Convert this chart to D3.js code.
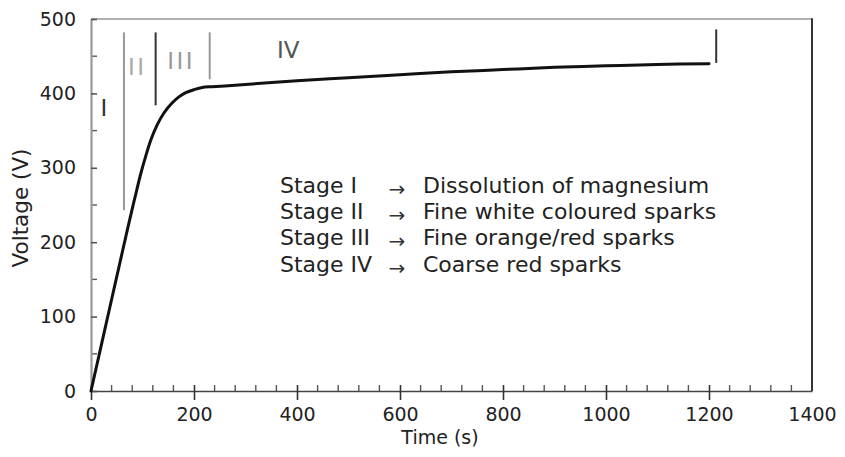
<!DOCTYPE html>
<html>
<head>
<meta charset="utf-8">
<script src="https://cdn.jsdelivr.net/npm/d3@7"></script>
<style>
  html, body { margin: 0; padding: 0; background: #fff; }
  svg { display: block; }
  text { font-family: "DejaVu Sans", sans-serif; }
</style>
</head>
<body>
<svg id="chart" width="845" height="457"></svg>
<script>
// ---- data ----
const timeS = [0, 40, 72, 86, 97, 106, 116, 128, 141, 156, 170, 184, 200, 216, 235, 260, 300, 400, 500, 600, 700, 800, 900, 1000, 1100, 1200];
const voltageV = [0, 123, 221, 262, 293, 315, 337, 357, 373, 386, 395, 401, 405, 408, 409, 410, 412, 417, 421, 425, 429, 432, 435, 437, 439, 440];

const xTicks = [0, 200, 400, 600, 800, 1000, 1200, 1400];
const yTicks = [0, 100, 200, 300, 400, 500];

// stage boundary markers: time, from voltage, to voltage
const markerTime = [64, 125.5, 230.5, 1214];
const markerFrom = [243, 384, 419, 441];
const markerTo = [482, 482, 482, 486];

// stage labels inside plot
const stageLabels = ["I", "II", "III", "IV"];
const stageLabelTime = [25, 90, 175, 383];
const stageLabelVolt = [381, 436, 444, 459];

// legend
const legendStages = ["Stage I", "Stage II", "Stage III", "Stage IV"];
const legendDesc = ["Dissolution of magnesium", "Fine white coloured sparks", "Fine orange/red sparks", "Coarse red sparks"];

// ---- drawing ----
(function () {
const svg = d3.select("#chart");
const pLeft = 91, pRight = 812, pTop = 19, pBottom = 391;

const x = d3.scaleLinear().domain([0, 1400]).range([pLeft, pRight]);
const y = d3.scaleLinear().domain([0, 500]).range([pBottom, pTop]);

// frame: top (gray), right (dark)
svg.append("line").attr("x1", pLeft).attr("x2", pRight).attr("y1", pTop).attr("y2", pTop)
  .attr("stroke", "#999").attr("stroke-width", 1.6);
svg.append("line").attr("x1", pRight).attr("x2", pRight).attr("y1", pTop - 0.8).attr("y2", pBottom)
  .attr("stroke", "#333").attr("stroke-width", 2);

// minor ticks
const xMinor = d3.range(40, 1400, 40).filter(v => v % 200 !== 0);
svg.append("g").selectAll("line").data(xMinor).join("line")
  .attr("x1", d => x(d)).attr("x2", d => x(d))
  .attr("y1", pBottom).attr("y2", pBottom - 6)
  .attr("stroke", "#555").attr("stroke-width", 1.4);
const yMinor = d3.range(50, 500, 100);
svg.append("g").selectAll("line").data(yMinor).join("line")
  .attr("x1", pLeft).attr("x2", pLeft + 6)
  .attr("y1", d => y(d)).attr("y2", d => y(d))
  .attr("stroke", "#555").attr("stroke-width", 1.4);

// x axis
const xAxis = svg.append("g").attr("transform", `translate(0,${pBottom})`)
  .call(d3.axisBottom(x).tickValues(xTicks).tickFormat(d3.format("d")).tickSize(9).tickSizeOuter(0).tickPadding(8));
xAxis.select(".domain").attr("stroke", "#444").attr("stroke-width", 1.6);
xAxis.selectAll(".tick line").attr("y1", -6).attr("stroke", "#333").attr("stroke-width", 1.6);
xAxis.selectAll(".tick text").attr("font-size", 19).attr("fill", "#222")
  .style("font-family", "'DejaVu Sans', sans-serif");
xAxis.selectAll(".tick").filter(d => d === 1400).select("line").remove();

// y axis
const yAxis = svg.append("g").attr("transform", `translate(${pLeft},0)`)
  .call(d3.axisLeft(y).tickValues(yTicks).tickFormat(d3.format("d")).tickSize(9).tickSizeOuter(0).tickPadding(6));
yAxis.select(".domain").attr("stroke", "#999").attr("stroke-width", 2.2);
yAxis.selectAll(".tick line").attr("x2", 6).attr("stroke", "#555").attr("stroke-width", 1.6);
yAxis.selectAll(".tick text").attr("font-size", 19).attr("fill", "#222")
  .style("font-family", "'DejaVu Sans', sans-serif");

// axis titles
svg.append("text").attr("x", 440).attr("y", 444).attr("text-anchor", "middle")
  .attr("font-size", 19).attr("fill", "#222").text("Time (s)");
svg.append("text").attr("transform", `translate(28,${208}) rotate(-90)`).attr("text-anchor", "middle")
  .attr("font-size", 21.5).attr("fill", "#222").text("Voltage (V)");

// stage markers
const markerColors = ["#999", "#333", "#999", "#333"];
svg.append("g").selectAll("line").data(markerTime).join("line")
  .attr("x1", d => x(d)).attr("x2", d => x(d))
  .attr("y1", (d, i) => y(markerFrom[i])).attr("y2", (d, i) => y(markerTo[i]))
  .attr("stroke", (d, i) => markerColors[i]).attr("stroke-width", 2);

// stage labels
const labelColors = ["#333", "#aaa", "#999", "#555"];
svg.append("g").selectAll("text").data(stageLabels).join("text")
  .attr("x", (d, i) => x(stageLabelTime[i])).attr("y", (d, i) => y(stageLabelVolt[i]) + 8)
  .attr("text-anchor", "middle")
  .attr("font-size", 23)
  .attr("letter-spacing", (d, i) => (i === 1 || i === 2) ? 2.5 : 0)
  .attr("fill", (d, i) => labelColors[i]).text(d => d);

// curve
const line = d3.line().x((d, i) => x(timeS[i])).y(d => y(d)).curve(d3.curveCatmullRom.alpha(0.5));
svg.append("path").datum(voltageV).attr("d", line)
  .attr("fill", "none").attr("stroke", "#111").attr("stroke-width", 3)
  .attr("stroke-linejoin", "round").attr("stroke-linecap", "round");

// legend
const lg = svg.append("g");
legendStages.forEach((s, i) => {
  const by = 193 + i * 26.2;
  lg.append("text").attr("x", 280).attr("y", by).attr("font-size", 22).attr("fill", "#222").text(s);
  lg.append("text").attr("x", 397).attr("y", by + 3).attr("font-size", 20).attr("text-anchor", "middle")
    .attr("fill", "#333").text("→");
  lg.append("text").attr("x", 423).attr("y", by).attr("font-size", 22).attr("fill", "#222").text(legendDesc[i]);
});
})();
</script>
</body>
</html>
